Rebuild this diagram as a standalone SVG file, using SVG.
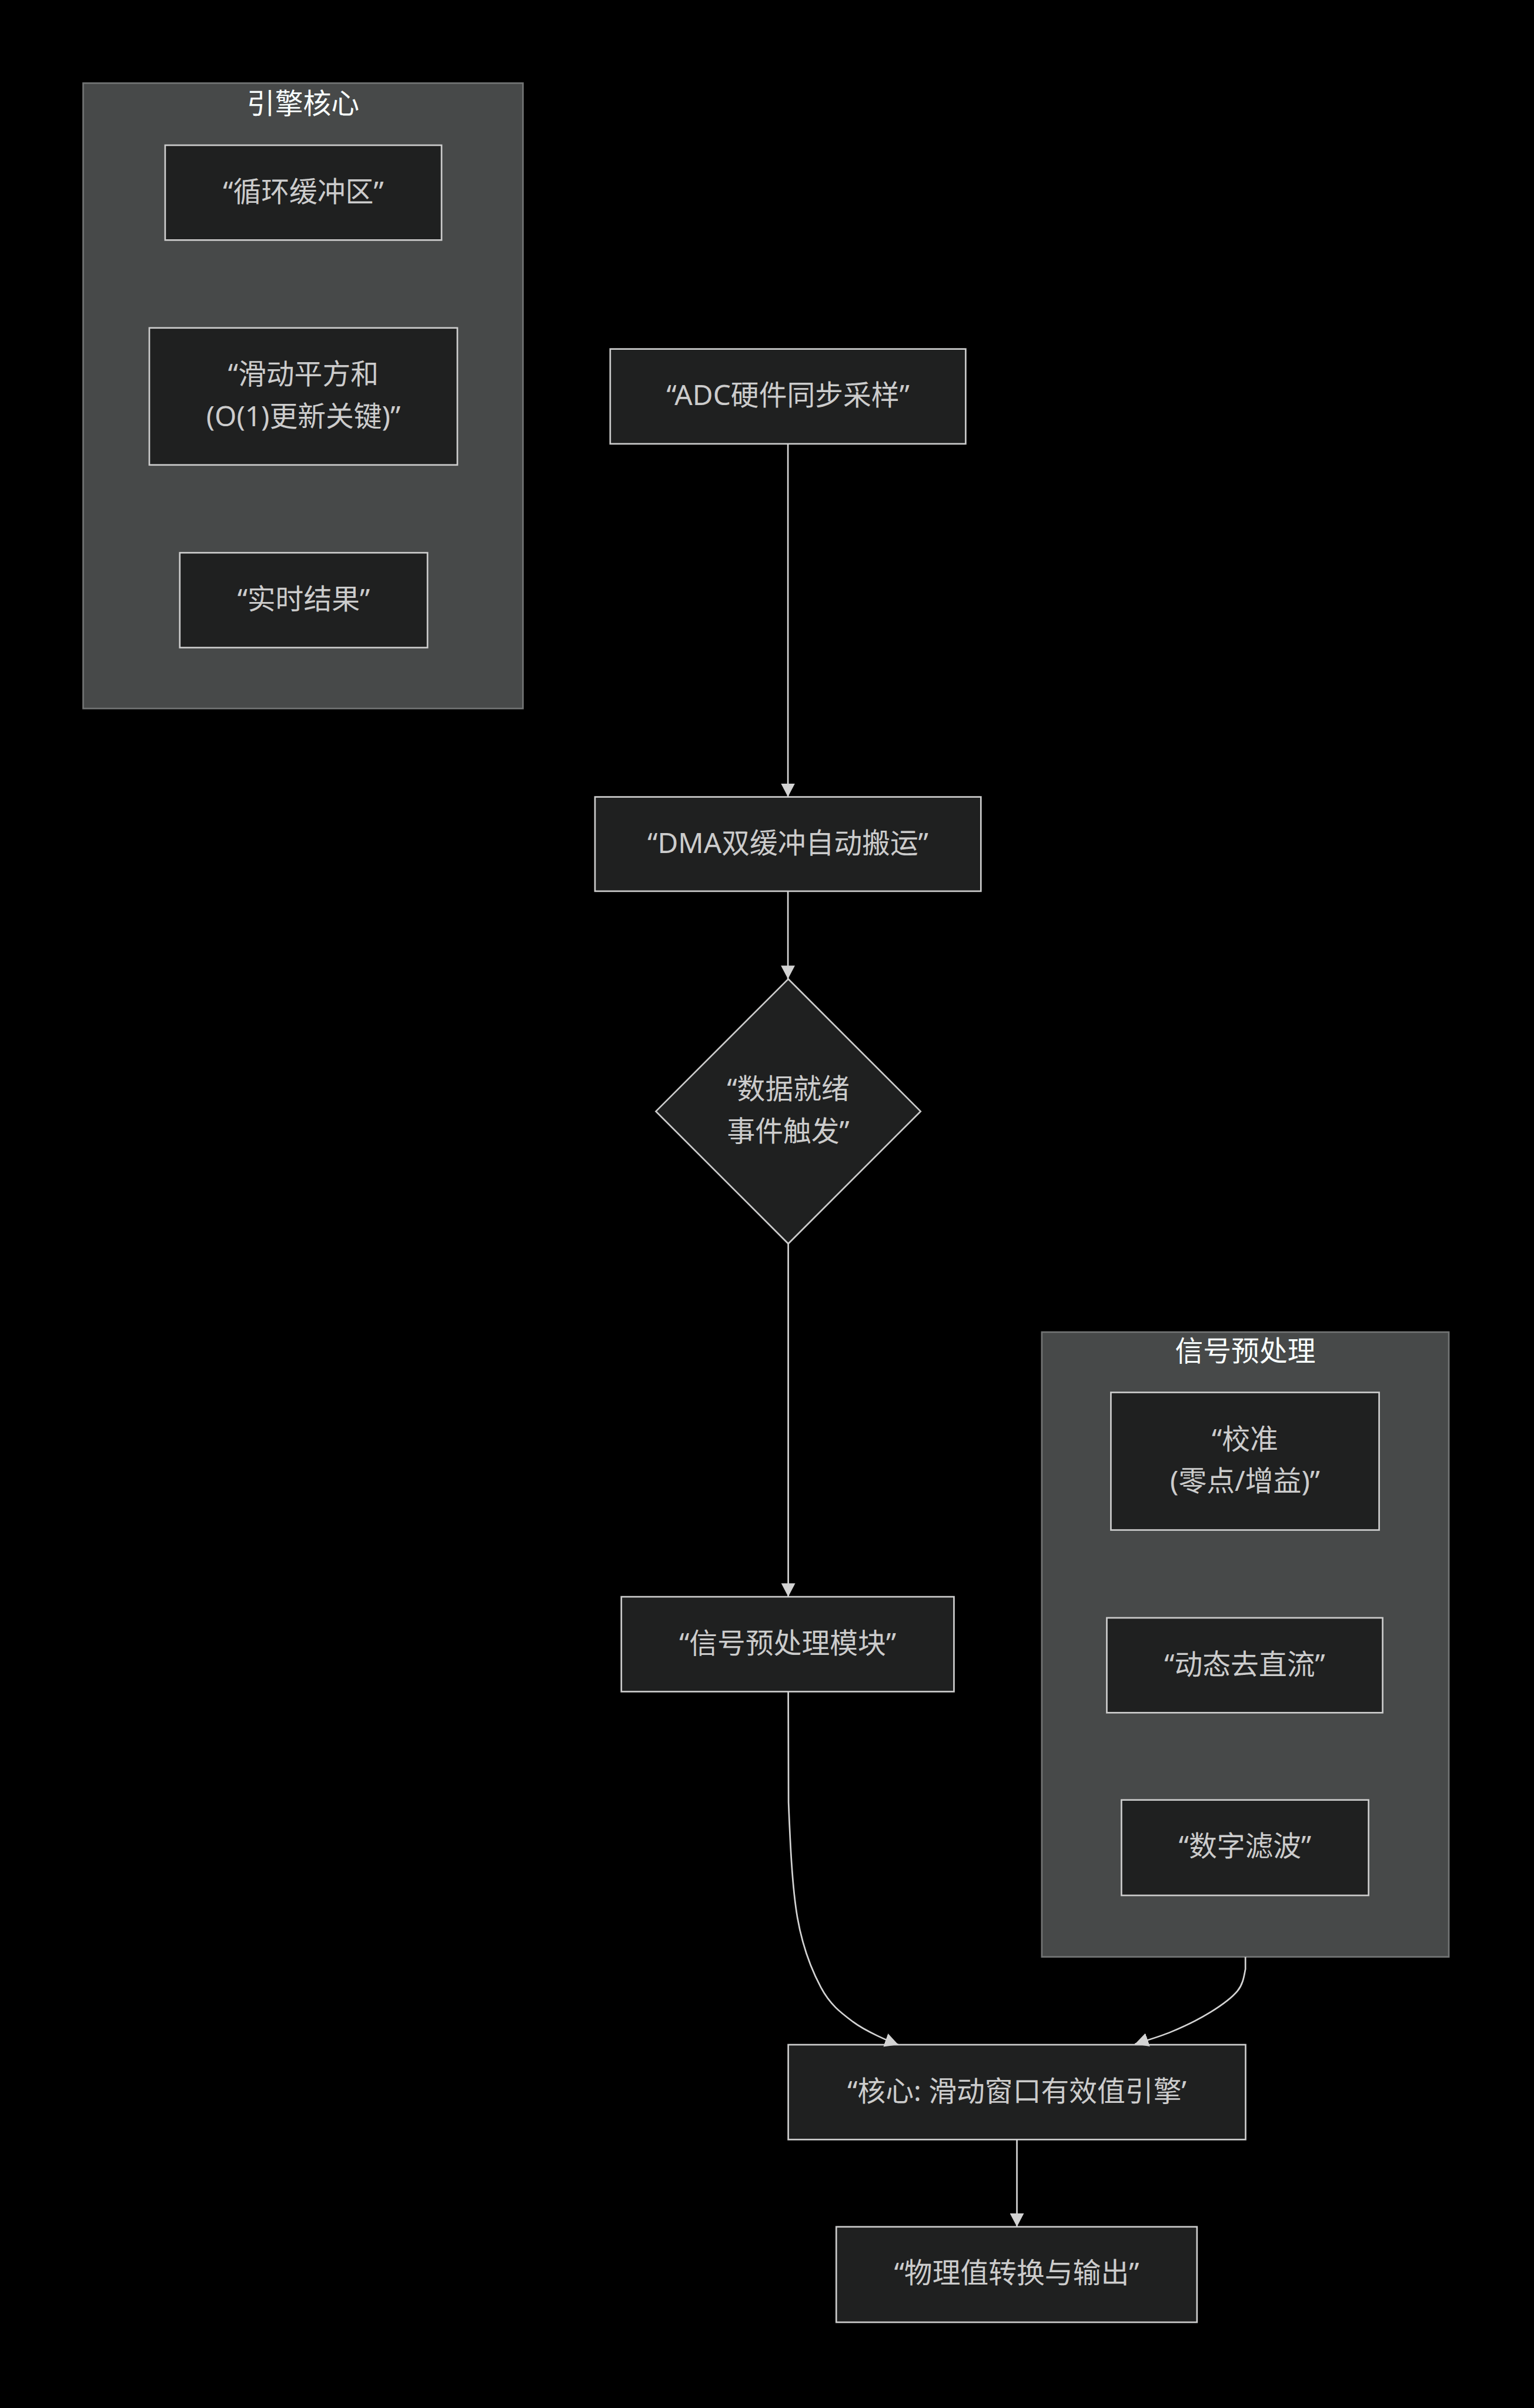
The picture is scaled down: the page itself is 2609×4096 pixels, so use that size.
<svg xmlns="http://www.w3.org/2000/svg" width="2609" height="4096" viewBox="0 0 2609 4096">
<style>
.bg{fill:#000000}
.cluster rect{fill:#474949;stroke:#727474;stroke-width:2.7}
.cluster text{fill:#f9fffe;font-size:48px;text-anchor:middle;font-family:'Noto Sans','Noto Sans CJK SC',sans-serif}
.node rect,.node polygon{fill:#1f2020;stroke:#cccccc;stroke-width:2.7}
.node text{fill:#cccccc;font-size:48px;text-anchor:middle;font-family:'Noto Sans','Noto Sans CJK SC',sans-serif}
.edge{fill:none;stroke:#d3d3d3;stroke-width:2.7;marker-end:url(#arrow)}
</style>
<defs>
<marker id="arrow" markerUnits="userSpaceOnUse" viewBox="0 0 23 24" markerWidth="23" markerHeight="24" refX="23" refY="12" orient="auto">
<path d="M0,0 L23,12 L0,24 z" fill="#d3d3d3"/>
</marker>
</defs>
<rect class="bg" x="0" y="0" width="2609" height="4096"/>
<g transform="scale(0.996)">
<g id="cluster-engine" class="cluster">
<rect x="142" y="142" width="751" height="1068"/>
<text x="517.5" y="193.5">引擎核心</text>
</g>
<g id="cluster-preproc" class="cluster">
<rect x="1779" y="2275" width="695" height="1067"/>
<text x="2126.5" y="2324.5">信号预处理</text>
</g>
<g id="node-ringbuf" class="node">
<rect x="282" y="248" width="472" height="162"/>
<text x="518" y="344">“循环缓冲区”</text>
</g>
<g id="node-sqsum" class="node">
<rect x="255" y="560" width="526" height="234"/>
<text x="518" y="656">“滑动平方和</text>
<text x="518" y="728">(O(1)更新关键)”</text>
</g>
<g id="node-result" class="node">
<rect x="307" y="944" width="423" height="162"/>
<text x="518.5" y="1040">“实时结果”</text>
</g>
<g id="node-adc" class="node">
<rect x="1042" y="596" width="607" height="162"/>
<text x="1345.5" y="692">“ADC硬件同步采样”</text>
</g>
<g id="node-dma" class="node">
<rect x="1016" y="1361" width="659" height="161"/>
<text x="1345.5" y="1457">“DMA双缓冲自动搬运”</text>
</g>
<g id="node-ready" class="node">
<polygon points="1346,1672 1572,1898 1346,2124 1120,1898"/>
<text x="1346" y="1877">“数据就绪</text>
<text x="1346" y="1949">事件触发”</text>
</g>
<g id="node-preproc" class="node">
<rect x="1061" y="2727" width="568" height="162"/>
<text x="1345" y="2823">“信号预处理模块”</text>
</g>
<g id="node-calib" class="node">
<rect x="1897" y="2378" width="458" height="235"/>
<text x="2126" y="2474.5">“校准</text>
<text x="2126" y="2546.5">(零点/增益)”</text>
</g>
<g id="node-dc" class="node">
<rect x="1890" y="2763" width="471" height="162"/>
<text x="2125.5" y="2859">“动态去直流”</text>
</g>
<g id="node-filter" class="node">
<rect x="1915" y="3074" width="422" height="163"/>
<text x="2126" y="3170">“数字滤波”</text>
</g>
<g id="node-core" class="node">
<rect x="1346" y="3492" width="781" height="162"/>
<text x="1736.5" y="3588">“核心: 滑动窗口有效值引擎’</text>
</g>
<g id="node-output" class="node">
<rect x="1428" y="3803" width="616" height="163"/>
<text x="1736" y="3899">“物理值转换与输出”</text>
</g>
<g id="connectors">
<path class="edge" d="M1345.5,758 L1345.5,1361"/>
<path class="edge" d="M1345.5,1522 L1345.5,1672"/>
<path class="edge" d="M1346,2124 L1346,2727"/>
<path class="edge" d="M1346,2889 L1346.5,3078 C1349.1,3142.3 1352.5,3222.3 1361.7,3275 C1370.9,3327.7 1385.9,3364.3 1401.7,3394 C1417.5,3423.7 1435.15,3436.8 1456.7,3453 C1478.2,3469.2 1519,3486.6 1534,3492"/>
<path class="edge" d="M2126.7,3342 L2126.7,3363 C2124.5,3372.7 2123.3,3387.7 2113.3,3400 C2103.3,3412.3 2085.6,3425 2066.7,3436.7 C2047.8,3448.4 2021.45,3461 2000,3470 C1978.55,3479.05 1948.3,3487.5 1938,3491"/>
<path class="edge" d="M1736.5,3654 L1736.5,3803"/>
</g>
</g>
</svg>
